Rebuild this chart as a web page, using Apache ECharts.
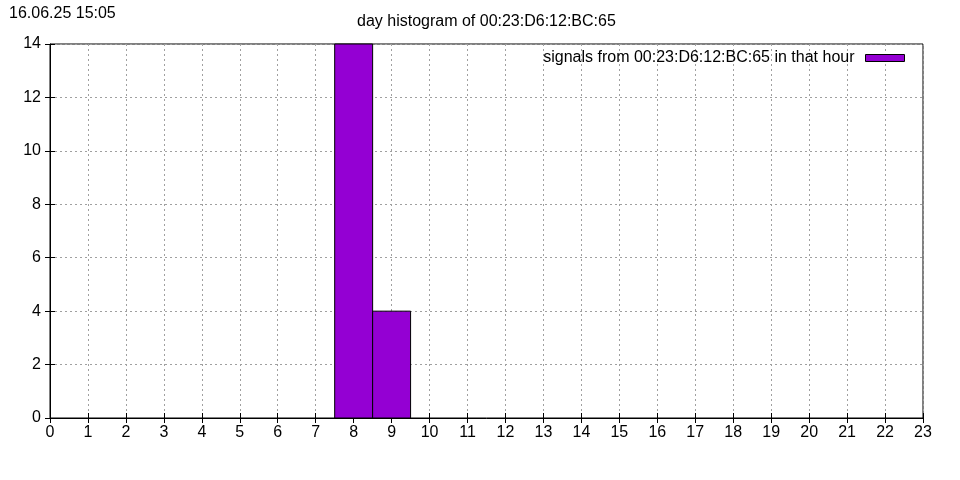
<!DOCTYPE html>
<html><head><meta charset="utf-8">
<script src="https://cdn.jsdelivr.net/npm/echarts@6/dist/echarts.min.js"></script>
<style>html,body{margin:0;padding:0;background:#fff}#c{width:960px;height:480px}</style>
</head><body><div id="c"></div>
<script>
const hours = [0,1,2,3,4,5,6,7,8,9,10,11,12,13,14,15,16,17,18,19,20,21,22,23];
const counts = [0,0,0,0,0,0,0,0,14,4,0,0,0,0,0,0,0,0,0,0,0,0,0,0];
const seriesName = 'signals from 00:23:D6:12:BC:65 in that hour';
const titleText = 'day histogram of 00:23:D6:12:BC:65';
const stampText = '16.06.25 15:05';
const barColor = '#9400D3';
const font = '"Liberation Sans", Arial, sans-serif';

const data = hours.map((h,i)=>[h, counts[i]]).filter(d=>d[1]>0);
const chart = echarts.init(document.getElementById('c'), null, {renderer:'canvas'});
const gridLine = {show:true, lineStyle:{color:'#a0a0a0', type:[2,3], width:1}};
const axisLbl = {color:'#000', fontFamily:font, fontSize:16};
chart.setOption({
  animation:false,
  textStyle:{fontFamily:font},
  title:[
    {text:stampText, left:4, top:1, textStyle:{fontSize:16, fontWeight:'normal', color:'#000', fontFamily:font}},
    {text:titleText, left:352, top:9, textStyle:{fontSize:16, fontWeight:'normal', color:'#000', fontFamily:font}}
  ],
  legend:{right:55, top:50, padding:0, align:'right', itemWidth:39, itemHeight:7, itemGap:0,
    textStyle:{fontSize:16, color:'#000', fontFamily:font, padding:[0,6,0,0]},
    data:[{name:seriesName, icon:'rect', itemStyle:{borderColor:'#000', borderWidth:1}}]},
  grid:{left:50, right:37, top:44, bottom:62, show:true, borderColor:'#000', borderWidth:1},
  xAxis:[
    {type:'value', min:0, max:23, interval:1, position:'bottom',
     axisLine:{show:true, lineStyle:{color:'#000'}}, axisTick:{show:true, inside:true, length:5, lineStyle:{color:'#000'}},
     axisLabel:Object.assign({margin:7}, axisLbl), splitLine:gridLine},
    {type:'value', min:0, max:23, interval:1, position:'top',
     axisLine:{show:false}, axisTick:{show:true, inside:true, length:5, lineStyle:{color:'#000'}},
     axisLabel:{show:false}, splitLine:{show:false}}
  ],
  yAxis:[
    {type:'value', min:0, max:14, interval:2, position:'left',
     axisLine:{show:true, lineStyle:{color:'#000'}}, axisTick:{show:true, inside:true, length:5, lineStyle:{color:'#000'}},
     axisLabel:Object.assign({margin:9}, axisLbl), splitLine:gridLine},
    {type:'value', min:0, max:14, interval:2, position:'right',
     axisLine:{show:false}, axisTick:{show:true, inside:true, length:5, lineStyle:{color:'#000'}},
     axisLabel:{show:false}, splitLine:{show:false}}
  ],
  series:[{
    name:seriesName, type:'custom', xAxisIndex:0, yAxisIndex:0,
    itemStyle:{color:barColor, borderColor:'#000', borderWidth:1},
    renderItem:function(params, api){
      const x = api.value(0), y = api.value(1);
      const p0 = api.coord([x-0.5, y]);
      const p1 = api.coord([x+0.5, 0]);
      return {type:'rect', shape:{x:p0[0], y:p0[1], width:p1[0]-p0[0], height:p1[1]-p0[1]},
        style:{fill:barColor, stroke:'#000', lineWidth:1}};
    },
    encode:{x:0, y:1},
    data:data
  }]
});
</script></body></html>
